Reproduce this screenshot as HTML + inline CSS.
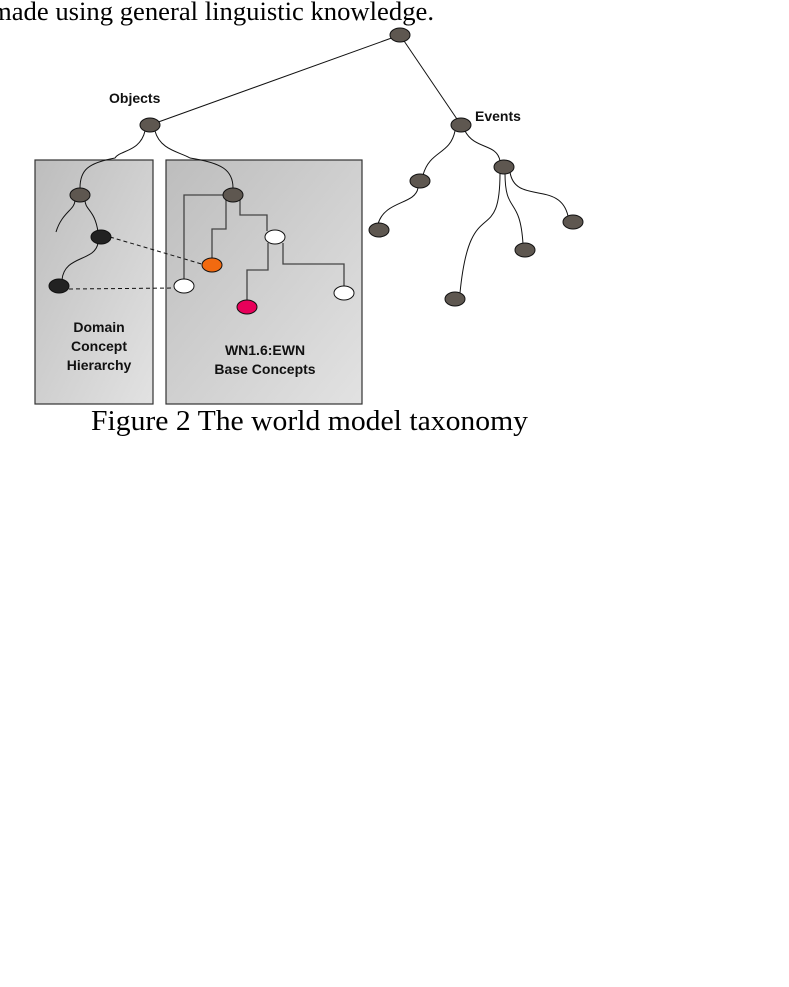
<!DOCTYPE html>
<html><head><style>body{margin:0;background:#fff}svg{display:block}</style></head><body>
<svg width="789" height="987" viewBox="0 0 789 987" xmlns="http://www.w3.org/2000/svg">
<defs><linearGradient id="g" x1="0" y1="0" x2="1" y2="1"><stop offset="0" stop-color="#bdbdbd"/><stop offset="1" stop-color="#e2e2e2"/></linearGradient></defs>
<text x="-9" y="20" font-family="Liberation Serif, serif" font-size="26" textLength="443" lengthAdjust="spacingAndGlyphs">made using general linguistic knowledge.</text>
<rect x="35" y="160" width="118" height="244" fill="url(#g)" stroke="#333" stroke-width="1.2"/>
<rect x="166" y="160" width="196" height="244" fill="url(#g)" stroke="#333" stroke-width="1.2"/>
<g fill="none" stroke="#111" stroke-width="1">
<line x1="400" y1="35" x2="150" y2="125"/>
<line x1="400" y1="35" x2="461" y2="125"/>
<path d="M145,131 C140,152 120,150 115,158 C88,163 80,170 80,188"/>
<path d="M155,131 C160,150 180,152 190,158 C222,163 233,170 233,188"/>
<path d="M75,200 C75,210 62,212 56,232 M85,200 C85,210 95,210 98,232 M98,243 C95,262 64,255 62,280"/>
<path d="M455,131 C450,155 430,150 423,175 M465,131 C475,150 497,143 500,161"/>
<path d="M418,188 C415,205 385,200 378,224 M500,173 C500,250 470,190 460,293 M505,173 C505,215 520,195 523,244 M510,172 C515,205 560,180 568,216"/>
<path d="M110,237 L205,265 M69,289 L176,288" stroke-dasharray="4,3"/>
</g>
<g fill="none" stroke="#444" stroke-width="1.3">
<path d="M223,195 H184 V279 M226,200 V229 H212 V258 M240,200 V215 H267 V231 M268,243 V270 H247 V300 M283,243 V264 H344 V286"/>
</g>
<g stroke="#111" stroke-width="1">
<g fill="#5e5750">
<ellipse cx="400" cy="35" rx="10" ry="7"/><ellipse cx="150" cy="125" rx="10" ry="7"/><ellipse cx="461" cy="125" rx="10" ry="7"/>
<ellipse cx="420" cy="181" rx="10" ry="7"/><ellipse cx="504" cy="167" rx="10" ry="7"/><ellipse cx="379" cy="230" rx="10" ry="7"/>
<ellipse cx="455" cy="299" rx="10" ry="7"/><ellipse cx="525" cy="250" rx="10" ry="7"/><ellipse cx="573" cy="222" rx="10" ry="7"/>
<ellipse cx="80" cy="195" rx="10" ry="7"/><ellipse cx="233" cy="195" rx="10" ry="7"/>
</g>
<ellipse cx="101" cy="237" rx="10" ry="7" fill="#222"/><ellipse cx="59" cy="286" rx="10" ry="7" fill="#222"/>
<g fill="#fff"><ellipse cx="275" cy="237" rx="10" ry="7"/><ellipse cx="184" cy="286" rx="10" ry="7"/><ellipse cx="344" cy="293" rx="10" ry="7"/></g>
<ellipse cx="212" cy="265" rx="10" ry="7" fill="#f26a10"/><ellipse cx="247" cy="307" rx="10" ry="7" fill="#e8005a"/>
</g>
<g font-family="Liberation Sans, sans-serif" font-weight="bold" font-size="14" fill="#111">
<text x="109" y="103">Objects</text><text x="475" y="121">Events</text>
<g text-anchor="middle"><text x="99" y="332">Domain</text><text x="99" y="351">Concept</text><text x="99" y="370">Hierarchy</text>
<text x="265" y="355">WN1.6:EWN</text><text x="265" y="374">Base Concepts</text></g>
</g>
<text x="91" y="430" font-family="Liberation Serif, serif" font-size="29" textLength="437" lengthAdjust="spacingAndGlyphs">Figure 2 The world model taxonomy</text>
</svg>
</body></html>
